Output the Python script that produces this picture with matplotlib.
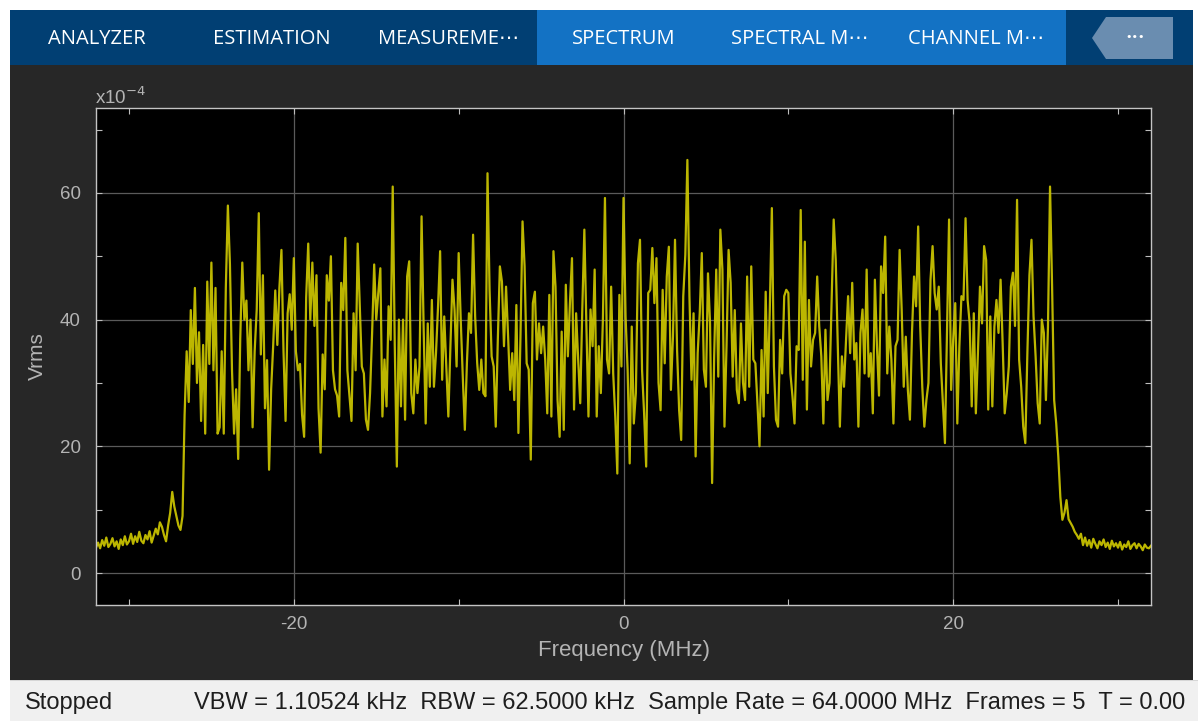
import numpy as np
import matplotlib
matplotlib.use("Agg")
import matplotlib.pyplot as plt
from matplotlib.patches import Rectangle, Polygon

plt.rcParams["axes.unicode_minus"] = False

# ---------------- data (Vrms, units of 1e-4) ----------------
f_start, f_stop, f_step = -32.0, 32.0, 0.125   # MHz bin grid
vrms = [
    # -32 .. -30.125
    4.0, 4.8, 3.9, 5.2, 4.3, 5.6, 4.1, 4.6, 5.5, 4.2, 5.0, 3.8, 5.3, 4.4, 5.8, 4.5,
    # -30 .. -28.125
    5.0, 6.2, 4.6, 5.8, 4.9, 6.5, 5.1, 4.7, 6.0, 5.3, 6.6, 4.8, 5.9, 7.0, 6.1, 8.0,
    # -28 .. -26.125
    7.3, 6.0, 5.0, 7.5, 9.5, 12.8, 10.5, 9.0, 7.5, 6.8, 9.0, 25.0, 35.0, 27.0, 41.5, 33.0,
    # -26 .. -24.125
    45, 30, 38, 24, 36, 22, 46, 33, 49, 32, 45, 22, 23, 35, 22, 45,
    # -24 .. -22.125
    58, 48.7, 32, 22, 29, 18, 37, 49, 40, 43, 32, 40, 23, 35, 41.6, 56.8,
    # -22 .. -20.125
    34.5, 47, 26, 33.6, 16.3, 29, 36, 44.6, 36, 45, 51, 35, 24, 41, 44, 38.4,
    # -20 .. -18.125
    49.7, 35, 32, 33, 25, 21.5, 43.5, 52, 40, 49, 39, 47, 26, 19, 34.5, 29,
    # -18 .. -16.125
    47, 43, 50, 32, 29, 28, 24.7, 45.8, 41.5, 52.9, 32, 28, 24, 41, 32, 52,
    # -16 .. -14.125
    42.1, 32.6, 31.5, 24.2, 22.6, 28.4, 37.9, 48.7, 40, 44.2, 48.1, 24.7, 33.7, 26.3, 42.1, 36.8,
    # -14 .. -12.125
    61, 35.8, 16.8, 40, 26.3, 40, 24.2, 46.8, 49.2, 28.4, 25.2, 33.7, 28.4, 32.6, 56.3, 38.9,
    # -12 .. -10.125
    23.6, 39.4, 29.4, 43.1, 29.4, 34.7, 42.1, 50.8, 30.5, 40.5, 32.6, 24.7, 35.8, 46.3, 41.6, 32.6,
    # -10 .. -8.125
    50.5, 40, 31, 22.6, 33.1, 41, 37.9, 53.4, 40.5, 33.1, 28.9, 33.7, 28.4, 27.9, 63.1, 44.7,
    # -8 .. -6.125
    34.2, 32.6, 23.1, 36.8, 48.4, 46, 35.8, 45.2, 37.3, 28.9, 34.7, 27.3, 42.3, 22.1, 37.3, 55.5,
    # -6 .. -4.125
    48.4, 33.1, 32.1, 17.9, 42.6, 44.4, 33.7, 39.4, 34.7, 38.9, 33.7, 25.2, 43.9, 24.7, 50.8, 45.2,
    # -4 .. -2.125
    27.3, 21.5, 38.1, 22.6, 45.5, 34.2, 42.6, 49.7, 25.8, 41, 33.7, 26.8, 41.6, 54.2, 38.9, 24.7,
    # -2 .. -0.125
    41.6, 35.8, 47.9, 24.7, 35.8, 28.4, 40, 59.2, 33.7, 31.5, 45.2, 31.5, 24.7, 15.7, 43.9, 32.6,
    # 0 .. 1.875
    59.2, 40.5, 32.1, 17.3, 38.9, 23.6, 28.4, 48.9, 52.6, 32.1, 25.2, 16.8, 44.2, 44.7, 51.3, 42.6,
    # 2 .. 3.875
    49.7, 30, 25.7, 44.7, 33.1, 46.8, 51.5, 28.9, 37.3, 52.6, 35.2, 25.7, 21, 43.7, 50.2, 65.2,
    # 4 .. 5.875
    43.7, 30.5, 41, 18.4, 34.7, 41, 50.5, 32.1, 29.4, 47.3, 39.4, 14.2, 34.2, 47.9, 31, 54.2,
    # 6 .. 7.875
    47.9, 23.1, 35.8, 51, 45.8, 31, 41.5, 28.9, 26.8, 39.4, 30, 27.3, 46.8, 29.4, 48.4, 33.7,
    # 8 .. 9.875
    33.1, 26.8, 20, 35.2, 24.7, 44.4, 28.4, 41.6, 57.6, 32.6, 24.2, 23.1, 36.8, 31.5, 43.7, 44.7,
    # 10 .. 11.875
    44.2, 31.5, 27.9, 23.6, 35.8, 35.2, 57.3, 30.5, 52.3, 25.8, 43.1, 32.6, 36.8, 37.9, 46.8, 38.9,
    # 12 .. 13.875
    34.2, 23.6, 38.4, 27.3, 30, 43.1, 55.8, 49.4, 35.8, 23.1, 34.2, 29.4, 36.8, 43.7, 34.7, 45.8,
    # 14 .. 15.875
    33.7, 36.3, 23.1, 37.9, 41.6, 31.5, 47.9, 31, 34.7, 25.2, 46.3, 35.8, 28, 48.4, 44.2, 53.1,
    # 16 .. 17.875
    31.5, 38.9, 33.7, 23.6, 35.8, 36.8, 51, 41.6, 29.4, 37.3, 28.9, 24.2, 37.9, 46.8, 42.1, 54.7,
    # 18 .. 19.875
    38.9, 29.4, 23.1, 27.3, 30, 46.3, 51.6, 44.2, 41.6, 45.2, 33.1, 26.8, 20.5, 38.4, 55.8, 28.9,
    # 20 .. 21.875
    36.8, 42.6, 23.6, 35.8, 43.7, 43.1, 56, 43.1, 39.4, 26.3, 41, 25.2, 34.7, 45.2, 39.4, 51.6,
    # 22 .. 23.875
    49.4, 25.8, 40.5, 26.3, 38.9, 43.1, 37.9, 46.3, 36.3, 25.2, 28.4, 32.6, 45.2, 47.4, 39, 58.9,
    # 24 .. 25.875
    33.7, 29.4, 23.1, 20.5, 34.7, 47, 52.6, 40.5, 34.2, 26.8, 23.6, 40, 37.9, 27.3, 38.9, 61,
    # 26 .. 27.875
    45.2, 27.3, 23.6, 18.4, 12, 8.4, 9.5, 11.5, 8.5, 7.9, 7.3, 6.5, 6.0, 5.4, 6.2, 4.4,
    # 28 .. 29.875
    5.6, 4.3, 5.2, 4.0, 5.4, 4.6, 3.9, 5.0, 4.4, 5.3, 4.1, 4.8, 3.8, 5.1, 4.2, 4.7,
    # 30 .. 31.875
    4.0, 4.9, 3.7, 4.5, 4.1, 5.0, 3.8, 4.4, 4.7, 3.9, 4.6, 4.2, 3.6, 4.5, 4.0, 3.9,
    # 32
    4.3,
]
freq = np.arange(f_start, f_stop + f_step / 2, f_step)

x_major = [-20, 0, 20]
x_minor = [-30, -10, 10, 30]
y_major = [0, 20, 40, 60]
y_minor = [10, 30, 50, 70]
tabs = ["ANALYZER", "ESTIMATION", "MEASUREME\u22ef", "SPECTRUM", "SPECTRAL M\u22ef", "CHANNEL M\u22ef"]
tab_x = [97, 272, 449, 624, 800, 976]
status_left = "Stopped"
status_right = "VBW = 1.10524 kHz  RBW = 62.5000 kHz  Sample Rate = 64.0000 MHz  Frames = 5  T = 0.00"

# ---------------- layout ----------------
W, H = 1198, 721
fig = plt.figure(figsize=(W / 100, H / 100), dpi=100, facecolor="white")


def fx(x):
    return x / W


def fy(y):
    return 1 - y / H


def rect(x0, y0, x1, y1, color, z=0):
    fig.add_artist(Rectangle((fx(x0), fy(y1)), fx(x1) - fx(x0), fy(y0) - fy(y1),
                             transform=fig.transFigure, facecolor=color,
                             edgecolor="none", zorder=z))


# toolbar and panels
rect(10, 10, 1193, 65, "#013f73")
rect(537, 10, 1066, 65, "#1372c4")
rect(10, 65, 1193, 680, "#272727")
rect(10, 680, 1198, 721, "#f0f0f0")
rect(10, 680, 1198, 681, "#d6d6d6")

btn = [(1092, 38), (1106, 17), (1173, 17), (1173, 59), (1106, 59)]
fig.add_artist(Polygon([(fx(a), fy(b)) for a, b in btn], closed=True,
                       transform=fig.transFigure, facecolor="#6a8db0",
                       edgecolor="none", zorder=1))
fig.text(fx(1135), fy(37), "\u2022\u2022\u2022", color="white", fontsize=8,
         ha="center", va="center", family=["DejaVu Sans"], zorder=2)

for t, xc in zip(tabs, tab_x):
    fig.text(fx(xc), fy(39), t, color="white", fontsize=14.5, ha="center",
             va="center", family=["Open Sans", "DejaVu Sans"], zorder=2)

fig.text(fx(25), fy(703), status_left, color="#1e1e1e", fontsize=17,
         ha="left", va="center", family=["Liberation Sans"])
fig.text(fx(1185), fy(703), status_right, color="#1e1e1e", fontsize=17,
         ha="right", va="center", family=["Liberation Sans"])

# ---------------- axes ----------------
ax_l, ax_r, ax_t, ax_b = 96, 1151, 108, 605
ax = fig.add_axes([fx(ax_l), fy(ax_b), fx(ax_r) - fx(ax_l), fy(ax_t) - fy(ax_b)])
ax.set_facecolor("black")
ax.plot(freq, vrms, color="#cdc700", lw=1.6, alpha=0.92)

ax.set_xlim(-32, 32)
ax.set_ylim(-5.05, 73.4)
ax.set_xticks(x_major)
ax.set_xticks(x_minor, minor=True)
ax.set_yticks(y_major)
ax.set_yticks(y_minor, minor=True)
ax.grid(True, which="major", color="#5a5a5a", lw=0.9)
lab_col = "#b4b4b4"
ax.tick_params(which="both", direction="in", top=True, right=True,
               color="#bdbdbd", labelcolor=lab_col, labelsize=13.5, length=4, width=0.8)
ax.tick_params(axis="x", pad=8)
ax.tick_params(axis="y", pad=11)
for lbl in ax.get_xticklabels() + ax.get_yticklabels():
    lbl.set_family("Liberation Sans")
for s in ax.spines.values():
    s.set_color("#c4c4c4")
    s.set_linewidth(1.0)

ax.set_xlabel("Frequency (MHz)", color=lab_col, fontsize=16,
              family="Liberation Sans", labelpad=5)
ax.set_ylabel("Vrms", color=lab_col, fontsize=15, family="Liberation Sans",
              labelpad=9)
fig.text(fx(95), fy(97), r"x10$^{-4}$", color=lab_col, fontsize=13.5,
         ha="left", va="center", family="Liberation Sans")

fig.savefig("out.png", dpi=100, facecolor=fig.get_facecolor())
